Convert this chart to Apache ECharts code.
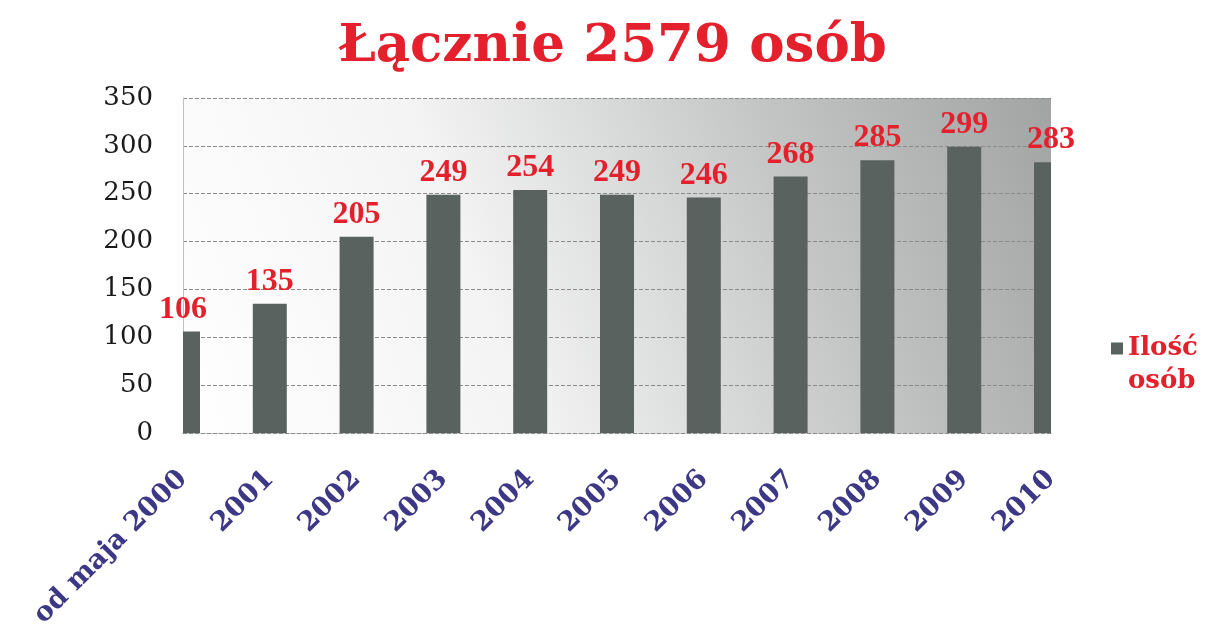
<!DOCTYPE html>
<html>
<head>
<meta charset="utf-8">
<script src="https://cdn.jsdelivr.net/npm/echarts@6/dist/echarts.min.js"></script>
<style>
  html, body { margin: 0; padding: 0; background: #fff; }
  #chart { width: 1225px; height: 626px; }
</style>
</head>
<body>
<div id="chart"></div>
<script>
  // data
  const years = ['od maja 2000', '2001', '2002', '2003', '2004', '2005', '2006', '2007', '2008', '2009', '2010'];
  const people = [106, 135, 205, 249, 254, 249, 246, 268, 285, 299, 283];
  const titleText = 'Łącznie 2579 osób';
  const seriesName = 'Ilość osób';

  const RED = '#e3202c';
  const NAVY = '#3d3886';
  const BAR = '#5a625f';
  const SERIF = '"DejaVu Serif", serif';
  const BAR_W = 34;

  const chart = echarts.init(document.getElementById('chart'), null, { renderer: 'canvas' });

  // bars are cut at the plot edges (first and last sit on the border)
  function renderBar(params, api) {
    const top = api.coord([api.value(0), api.value(1)]);
    const base = api.coord([api.value(0), 0]);
    const cs = params.coordSys;
    const shape = echarts.graphic.clipRectByRect(
      { x: top[0] - BAR_W / 2, y: top[1], width: BAR_W, height: base[1] - top[1] },
      { x: cs.x, y: cs.y, width: cs.width, height: cs.height }
    );
    if (!shape) return;
    return { type: 'rect', shape, style: api.style() };
  }

  chart.setOption({
    animation: false,
    title: {
      text: titleText,
      left: 'center',
      top: 16,
      textStyle: { color: RED, fontFamily: SERIF, fontWeight: 'bold', fontSize: 53 },
    },
    legend: {
      data: [seriesName],
      left: 1111,
      top: 299,
      padding: 0,
      itemWidth: 12,
      itemHeight: 12,
      icon: 'rect',
      // blank first line keeps the square level with "Ilość"
      formatter: () => '\nIlość\nosób',
      textStyle: {
        color: RED, fontFamily: SERIF, fontWeight: 'bold', fontSize: 26, lineHeight: 33,
      },
    },
    grid: {
      left: 183, right: 174, top: 98, bottom: 193,
      outerBoundsMode: 'none',
      show: true,
      borderWidth: 0,
      backgroundColor: {
        type: 'linear', x: 0, y: 1, x2: 1, y2: 0,
        colorStops: [
          { offset: 0, color: '#ffffff' },
          { offset: 0.35, color: '#f4f4f4' },
          { offset: 0.7, color: '#c4c6c6' },
          { offset: 1, color: '#a2a4a4' },
        ],
      },
    },
    xAxis: {
      type: 'category',
      data: years,
      boundaryGap: false,
      axisTick: { show: false },
      axisLine: { show: true, lineStyle: { color: '#8a8a8a', type: 'dashed', width: 1 } },
      axisLabel: {
        rotate: 45,
        margin: 42,
        interval: 0,
        color: NAVY,
        fontFamily: SERIF,
        fontWeight: 'bold',
        fontSize: 27,
      },
    },
    yAxis: {
      type: 'value',
      min: 0,
      max: 350,
      interval: 50,
      axisLine: { show: true, lineStyle: { color: '#b9c2cf', width: 1 } },
      axisTick: { show: false },
      axisLabel: { margin: 30, color: '#1a1a1a', fontFamily: SERIF, fontSize: 26 },
      splitLine: { lineStyle: { color: '#8a8a8a', type: 'dashed', width: 1 } },
    },
    series: [
      {
        name: seriesName,
        type: 'custom',
        renderItem: renderBar,
        data: people.map((v, i) => [i, v]),
        encode: { x: 0, y: 1 },
        itemStyle: { color: BAR },
      },
      {
        // value labels, not clipped
        name: 'labels',
        type: 'bar',
        data: people,
        barWidth: BAR_W,
        silent: true,
        z: 3,
        itemStyle: { color: 'rgba(0,0,0,0)' },
        label: {
          show: true,
          position: 'top',
          distance: 6,
          color: RED,
          fontFamily: '"Liberation Serif", serif',
          fontWeight: 'bold',
          fontSize: 32,
        },
      },
    ],
  });
</script>
</body>
</html>
